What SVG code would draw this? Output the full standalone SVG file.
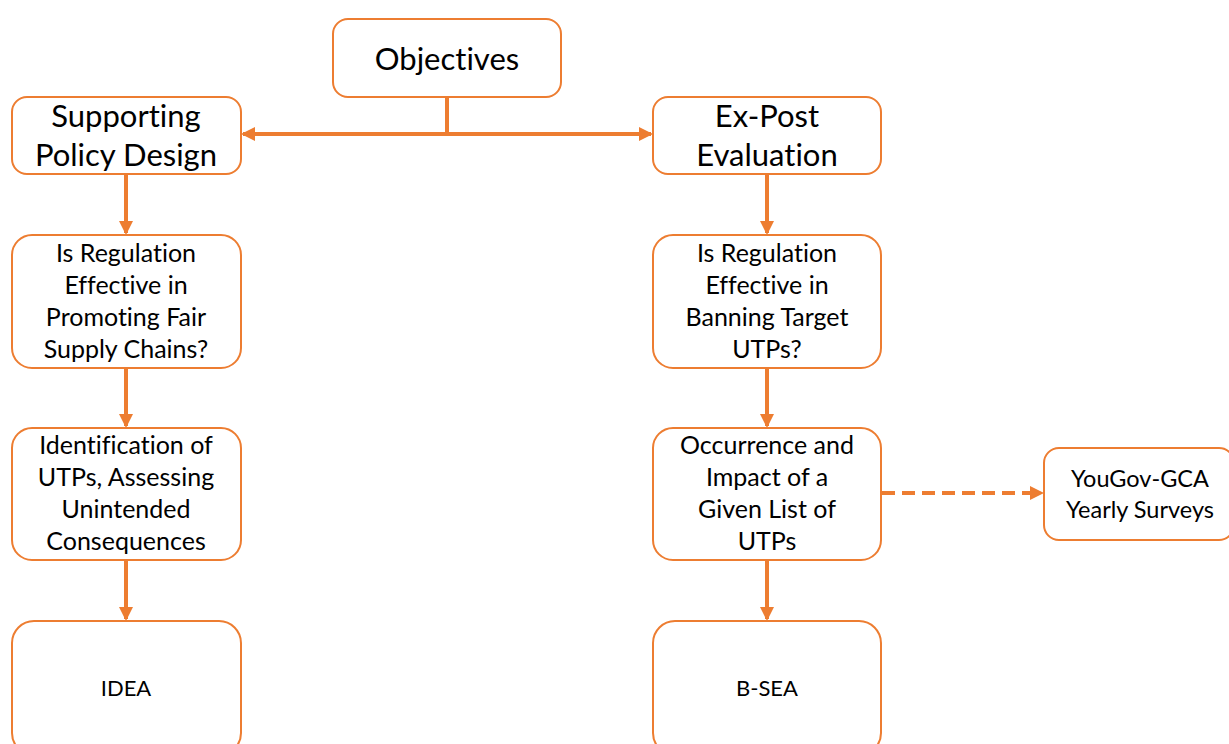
<svg xmlns="http://www.w3.org/2000/svg" width="1229" height="744" viewBox="0 0 1229 744">
  <style>
    .box { fill: #ffffff; stroke: #ED7D31; stroke-width: 2; }
    .lbl { font-family: Lato, "Open Sans", "Liberation Sans", sans-serif; fill: #000000; text-anchor: middle; font-variant-ligatures: none; font-feature-settings: "liga" 0, "clig" 0; }
    .big { font-size: 31px; }
    .mid { font-size: 25px; }
    .side { font-size: 23.5px; }
    .small { font-size: 22px; }
    .link { fill: none; stroke: #ED7D31; stroke-width: 4; }
    .dash { stroke-dasharray: 13 7; }
  </style>
  <defs>
    <marker id="head" markerUnits="userSpaceOnUse" markerWidth="14" markerHeight="14" viewBox="0 0 14 14" refX="12" refY="7" orient="auto-start-reverse">
      <path d="M0,0 L14,7 L0,14 Z" fill="#ED7D31"/>
    </marker>
  </defs>

  <rect width="1229" height="744" fill="#ffffff"/>

  <!-- connectors -->
  <g id="connectors">
    <polyline class="link" points="447,97 447,134"/>
    <line class="link" x1="243" y1="134" x2="651" y2="134" marker-start="url(#head)" marker-end="url(#head)"/>
    <line class="link" x1="126" y1="174" x2="126" y2="233" marker-end="url(#head)"/>
    <line class="link" x1="126" y1="368" x2="126" y2="426" marker-end="url(#head)"/>
    <line class="link" x1="126" y1="560" x2="126" y2="619" marker-end="url(#head)"/>
    <line class="link" x1="767" y1="174" x2="767" y2="233" marker-end="url(#head)"/>
    <line class="link" x1="767" y1="368" x2="767" y2="426" marker-end="url(#head)"/>
    <line class="link" x1="767" y1="560" x2="767" y2="619" marker-end="url(#head)"/>
    <line class="link dash" x1="882" y1="493" x2="1042" y2="493" marker-end="url(#head)"/>
  </g>

  <g id="objectives">
    <rect class="box" x="333" y="19" width="228" height="78" rx="15"/>
    <text class="lbl big" x="447" y="70">Objectives</text>
  </g>

  <g id="supporting-policy-design">
    <rect class="box" x="12" y="97" width="229" height="77" rx="15"/>
    <text class="lbl big" x="126" y="127">Supporting</text>
    <text class="lbl big" x="126" y="166">Policy Design</text>
  </g>

  <g id="ex-post-evaluation">
    <rect class="box" x="653" y="97" width="228" height="77" rx="15"/>
    <text class="lbl big" x="767" y="127">Ex-Post</text>
    <text class="lbl big" x="767" y="166">Evaluation</text>
  </g>

  <g id="fair-supply-chains">
    <rect class="box" x="12" y="235" width="229" height="133" rx="20"/>
    <text class="lbl mid" x="126" y="262">Is Regulation</text>
    <text class="lbl mid" x="126" y="294">Effective in</text>
    <text class="lbl mid" x="126" y="326">Promoting Fair</text>
    <text class="lbl mid" x="126" y="358">Supply Chains?</text>
  </g>

  <g id="banning-target-utps">
    <rect class="box" x="653" y="235" width="228" height="133" rx="20"/>
    <text class="lbl mid" x="767" y="262">Is Regulation</text>
    <text class="lbl mid" x="767" y="294">Effective in</text>
    <text class="lbl mid" x="767" y="326">Banning Target</text>
    <text class="lbl mid" x="767" y="358">UTPs?</text>
  </g>

  <g id="identification-of-utps">
    <rect class="box" x="12" y="428" width="229" height="132" rx="20"/>
    <text class="lbl mid" x="126" y="454">Identification of</text>
    <text class="lbl mid" x="126" y="486">UTPs, Assessing</text>
    <text class="lbl mid" x="126" y="518">Unintended</text>
    <text class="lbl mid" x="126" y="550">Consequences</text>
  </g>

  <g id="occurrence-and-impact">
    <rect class="box" x="653" y="428" width="228" height="132" rx="20"/>
    <text class="lbl mid" x="767" y="454">Occurrence and</text>
    <text class="lbl mid" x="767" y="486">Impact of a</text>
    <text class="lbl mid" x="767" y="518">Given List of</text>
    <text class="lbl mid" x="767" y="550">UTPs</text>
  </g>

  <g id="yougov-gca">
    <rect class="box" x="1044" y="448" width="190" height="92" rx="15"/>
    <text class="lbl side" x="1140" y="487">YouGov-GCA</text>
    <text class="lbl side" x="1140" y="518">Yearly Surveys</text>
  </g>

  <g id="idea">
    <rect class="box" x="12" y="621" width="229" height="134" rx="22"/>
    <text class="lbl small" x="126" y="696">IDEA</text>
  </g>

  <g id="b-sea">
    <rect class="box" x="653" y="621" width="228" height="134" rx="22"/>
    <text class="lbl small" x="767" y="696">B-SEA</text>
  </g>
</svg>
